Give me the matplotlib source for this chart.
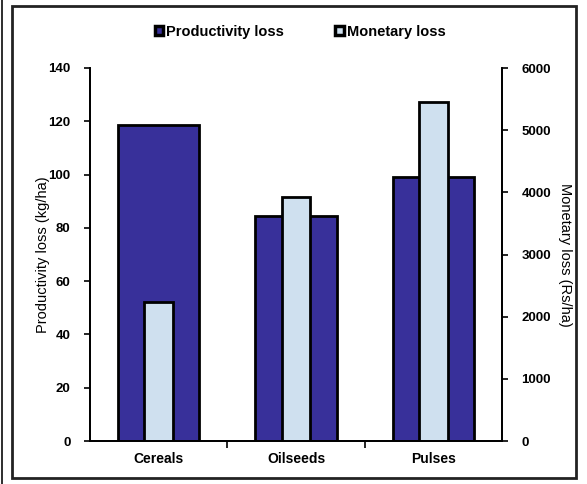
import numpy as np
import matplotlib
matplotlib.use('Agg')
import matplotlib.pyplot as plt
from matplotlib.patches import Rectangle

plt.rcParams['font.family'] = ['Liberation Sans', 'DejaVu Sans']

# Dados
crops = ['Cereals', 'Oilseeds', 'Pulses']
productivity_loss = [118.5, 84.3, 99.2]      # kg/ha
monetary_loss = [2230, 3925, 5450]           # Rs/ha

_DARK = '#38309a'
_LIGHT = '#cfe0ef'

fig = plt.figure(figsize=(5.87, 4.84), dpi=100)
ax = fig.add_axes([90 / 587, 43 / 484, 412 / 587, 373 / 484])
ax2 = ax.twinx()

x = np.arange(len(crops))
b1 = ax.bar(x, productivity_loss, width=0.59, color=_DARK,
            edgecolor='black', linewidth=2, label='Productivity loss')
b2 = ax2.bar(x, monetary_loss, width=0.21, color=_LIGHT,
             edgecolor='black', linewidth=2, label='Monetary loss')

ax.set_xlim(-0.5, 2.5)
ax.set_ylim(0, 140)
ax.set_yticks(range(0, 141, 20))
ax2.set_ylim(0, 6000)
ax2.set_yticks(range(0, 6001, 1000))
ax.set_xticks(x)
ax.set_xticklabels(crops, fontsize=10, fontweight='bold')
ax.set_xticks([0.5, 1.5], minor=True)

for a in (ax, ax2):
    for lab in a.get_yticklabels():
        lab.set_fontweight('bold')
        lab.set_fontsize(9.5)
    a.spines['top'].set_visible(False)
    for s in ('left', 'right', 'bottom'):
        a.spines[s].set_linewidth(1.3)

ax.tick_params(axis='x', which='major', length=0, pad=8)
ax.tick_params(axis='x', which='minor', length=5, width=1.2, direction='out')
ax.tick_params(axis='y', length=4, width=1.2, direction='out', pad=10)
ax2.tick_params(axis='y', length=4, width=1.2, direction='out', pad=10)

ax.set_ylabel('Productivity loss (kg/ha)', fontsize=10.5, labelpad=-1)
ax2.set_ylabel('Monetary loss (Rs/ha)', fontsize=10.5, rotation=270,
               labelpad=15)

leg = fig.legend([b1, b2], ['Productivity loss', 'Monetary loss'],
                 loc='center', bbox_to_anchor=(300 / 587, 1 - 32 / 484),
                 ncol=2, frameon=False,
                 prop={'weight': 'bold', 'size': 10.5},
                 handlelength=0.6, handleheight=0.6, handletextpad=0.2,
                 columnspacing=3.5)
for h in leg.legend_handles:
    h.set_linewidth(2.5)

# moldura externa
fig.patches.append(Rectangle((12 / 587, 6 / 484), 564 / 587, 472 / 484,
                             transform=fig.transFigure, fill=False,
                             edgecolor='#222222', linewidth=2))
fig.patches.append(Rectangle((1 / 587, 0), 2 / 587, 1,
                             transform=fig.transFigure, fill=True,
                             color='#333333', linewidth=0))

fig.savefig('out.png', dpi=100)
